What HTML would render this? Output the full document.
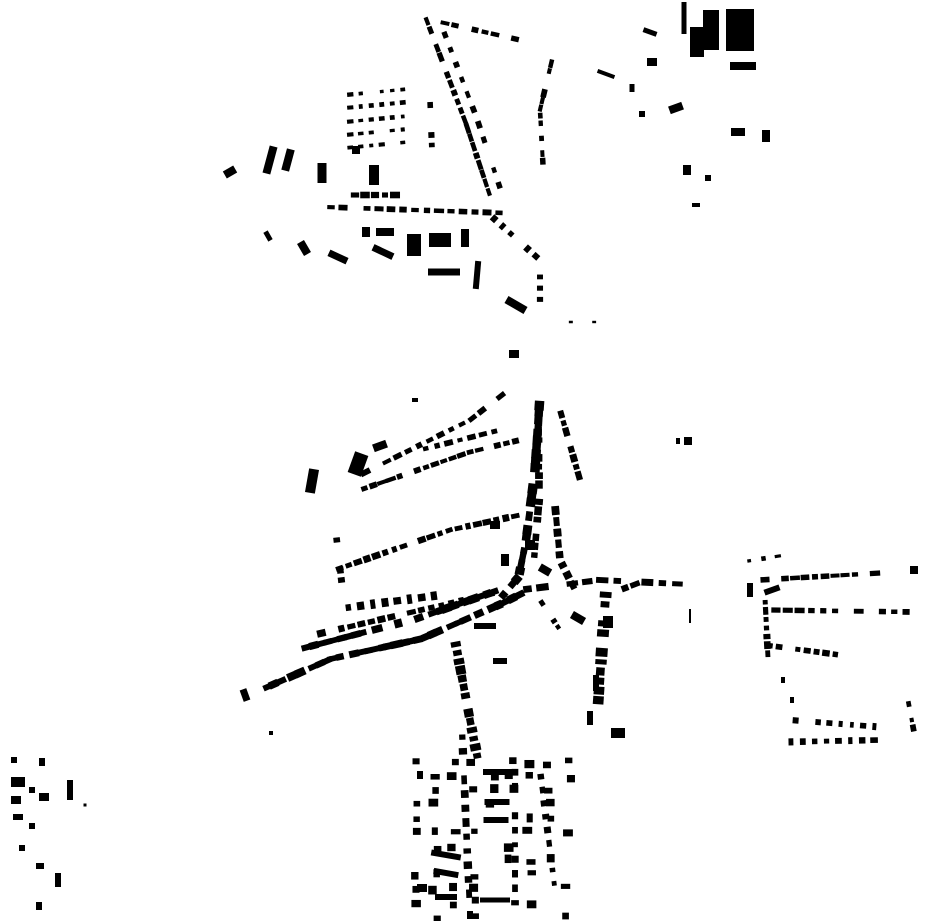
<!DOCTYPE html>
<html><head><meta charset="utf-8"><style>html,body{margin:0;padding:0;background:#fff}svg{display:block}</style></head>
<body>
<svg id="m" width="930" height="924" viewBox="0 0 930 924" xmlns="http://www.w3.org/2000/svg"></svg>
<script>
var s=document.getElementById('m'),out='';
var seed=7;function r(){seed=(seed*9301+49297)%233280;return seed/233280;}
function R(x,y,w,h,a){out+='<rect x="'+(x-w/2)+'" y="'+(y-h/2)+'" width="'+w+'" height="'+h+'" fill="#000"'+(a?' transform="rotate('+a+' '+x+' '+y+')"':'')+'/>';}
function row(p,n,w,h,off){off=off||0;var L=[],T=0;for(var i=0;i<p.length-1;i++){var d=Math.hypot(p[i+1][0]-p[i][0],p[i+1][1]-p[i][1]);L.push(d);T+=d;}
for(var k=0;k<n;k++){var t=(k+0.5)/n*T,i=0;while(i<L.length-1&&t>L[i]){t-=L[i];i++;}var f=t/L[i];var dx=p[i+1][0]-p[i][0],dy=p[i+1][1]-p[i][1];var a=Math.atan2(dy,dx)*180/Math.PI;var nx=-dy/L[i],ny=dx/L[i];var x=p[i][0]+dx*f+nx*off,y=p[i][1]+dy*f+ny*off;if(r()<0.12)continue;R(x,y,w*(0.7+r()*0.6),h*(0.8+r()*0.4),a);}}
// north
row([[430,15],[470,120],[495,195]],20,8,5,5);row([[430,15],[470,120],[495,195]],12,6,5,-7);
row([[440,22],[520,40]],8,7,5);row([[552,60],[540,110],[543,165]],14,7,5);
[95,108,122,135,148].forEach(function(y){row([[345,y],[408,y-6]],6,5,4);});
row([[430,100],[432,150]],5,6,6);row([[325,207],[505,213]],15,8,5);row([[350,195],[400,195]],5,8,6);
row([[490,215],[540,260],[540,305]],10,6,6);row([[565,322],[600,322]],3,4,3);
[[230,172,12,8,-30],[270,160,8,28,15],[288,160,8,22,15],[322,173,9,20,0],[374,175,10,20,0],[356,150,8,8,0],[414,245,14,22,0],[440,240,22,14,0],[444,272,32,7,0],[477,275,6,28,5],[465,238,8,18,0],[383,252,22,7,25],[338,257,20,7,25],[304,248,8,14,-30],[516,305,22,8,30],[268,236,5,10,-30],[385,232,18,8,0],[366,232,8,10,0]].forEach(function(a){R.apply(null,a);});
// top right
[[684,18,5,32],[697,42,14,30],[711,30,16,40],[740,30,28,42],[743,66,26,8],[650,32,14,5,20],[652,62,10,8],[606,74,18,4,20],[632,88,5,8],[676,108,14,8,-20],[642,114,6,6],[738,132,14,8],[766,136,8,12],[687,170,8,10],[708,178,6,6],[696,205,8,4]].forEach(function(a){R.apply(null,a);});
// center
row([[262,685],[330,655],[420,635],[500,600],[520,590]],38,10,7,4);
row([[305,655],[420,625],[500,597]],28,9,7,-7);
row([[320,650],[500,608]],18,7,6,-16);
row([[536,395],[531,470],[522,540],[515,575],[498,595]],30,8,8,-4);
row([[545,400],[545,500],[540,560]],18,7,7,6);
row([[555,505],[560,560],[575,590]],8,8,7);
row([[360,490],[470,452],[520,440]],18,8,5);row([[360,475],[470,420],[515,385]],15,8,5);
row([[420,450],[500,430]],7,7,5);
row([[335,570],[450,530],[520,515]],20,7,6);row([[335,525],[342,585]],6,6,6);
row([[520,590],[600,580],[700,585]],12,10,6);row([[606,590],[598,705]],12,7,10);
row([[455,640],[470,720],[478,760]],14,7,9);row([[330,610],[440,595]],9,6,8);
row([[540,600],[560,630]],5,6,5);row([[560,410],[580,480]],8,7,6);
[[312,481,10,24,10],[358,464,14,22,20],[380,446,14,8,-20],[500,661,14,6],[578,618,14,8,30],[608,622,10,12],[514,354,10,8],[245,695,7,12,-20],[688,441,8,8],[678,441,4,6],[618,733,14,10],[690,616,2,14],[271,733,4,4],[590,718,6,14],[596,683,6,16],[415,400,6,4],[485,626,22,6],[530,545,10,10],[545,570,12,8,30],[505,560,8,12],[495,525,10,8]].forEach(function(a){R.apply(null,a);});
// east
row([[760,580],[880,573]],12,8,5);row([[770,610],[912,612]],12,8,5);row([[765,645],[840,655]],8,7,6);
row([[765,598],[768,658]],7,6,6);row([[790,720],[880,727]],8,5,7);row([[785,742],[880,740]],8,6,6);
row([[908,700],[914,732]],4,6,5);row([[742,562],[785,555]],3,5,4);row([[620,590],[660,575]],4,8,6);
[[750,590,6,14],[772,590,16,6,-20],[914,570,8,8],[783,680,4,6],[792,700,4,6]].forEach(function(a){R.apply(null,a);});
// south
for(var y=760;y<915;y+=14)for(var x=413;x<570;x+=19){if(r()<0.45)R(x+r()*6,y+r()*5,6+r()*4,5+r()*4);}
row([[462,730],[470,915]],13,7,7);row([[515,765],[515,910]],10,6,7);row([[540,770],[555,890]],9,6,6);
[[498,772,30,6],[497,802,25,6],[496,820,25,6],[446,855,30,6,10],[446,873,25,6,10],[422,888,10,8],[446,897,22,6],[420,775,6,8],[495,900,30,5],[470,915,6,8]].forEach(function(a){R.apply(null,a);});
// southwest
[[18,782,14,10],[16,800,10,8],[44,797,10,8],[70,790,6,20],[18,817,10,6],[32,826,6,6],[22,848,6,6],[40,866,8,6],[58,880,6,14],[39,906,6,8],[14,760,6,6],[42,762,6,8],[32,790,6,6],[85,805,3,3]].forEach(function(a){R.apply(null,a);});
s.innerHTML=out;
</script>
</body></html>
